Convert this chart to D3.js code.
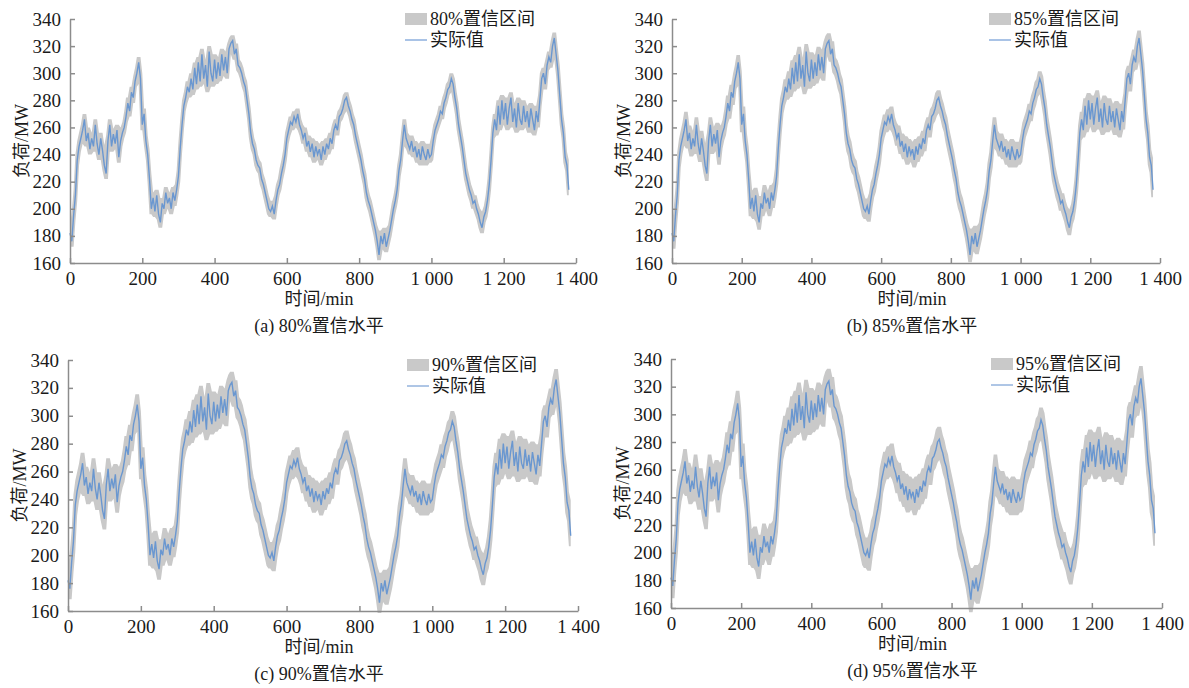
<!DOCTYPE html>
<html lang="zh">
	<head>
		<meta charset="utf-8">
		<title>置信区间</title>
		<script type="text/javascript" src="https://cdn.jsdelivr.net/npm/d3@7/dist/d3.min.js"></script>
		<style type="text/css">
			body { margin:0px; background:#fff; }
			text {
				font-family: "Liberation Serif", "Noto Sans CJK SC", serif;
				fill: #1a1a1a;
			}
		</style>
	</head>
	<body>
		<div id="chart"></div>
		<script type="text/javascript">
			//Data: actual load every 5 min, MW
			var step = 5;
			var load = [
				182,176,195,210,236,246,252,258,266,250,256,244,252,246,262,248,240,252,243,232,
				226,250,262,246,255,248,258,238,250,256,260,268,278,272,286,282,294,300,308,296,
				262,270,250,240,222,200,208,198,210,196,190,204,200,212,204,208,200,212,206,214,
				224,245,262,276,282,290,286,296,288,304,292,308,294,314,296,306,290,316,300,294,
				310,296,308,298,314,302,312,300,318,322,324,314,318,306,304,300,294,290,280,270,
				256,248,244,236,232,230,222,218,212,206,200,198,202,196,206,214,218,226,232,240,
				252,258,264,262,268,264,270,262,258,252,256,246,250,242,248,238,246,240,244,236,
				246,240,248,244,252,248,258,262,258,268,270,274,280,282,276,272,266,262,254,248,
				242,236,228,222,212,206,202,196,190,184,176,166,180,174,182,172,178,184,192,200,
				206,214,228,236,250,262,252,248,244,250,242,246,238,244,236,246,240,236,244,238,
				240,250,258,262,266,272,270,278,282,288,290,296,292,282,274,262,254,246,236,226,
				220,214,210,204,206,200,196,190,186,194,198,206,218,236,256,266,258,276,262,280,
				266,278,262,274,282,264,274,260,278,266,262,276,264,272,260,274,266,258,272,264,
				280,296,300,292,306,312,308,320,326,314,302,284,266,256,238,232,214
			];

			//Panels
			var levels = ["80%", "85%", "90%", "95%"];
			var letters = ["a", "b", "c", "d"];
			var halfWidth = [4, 5.5, 7.5, 9];

			var xTicks = [0, 200, 400, 600, 800, 1000, 1200, 1400];
			var yTicks = [160, 180, 200, 220, 240, 260, 280, 300, 320, 340];

			var panels = [
				{left:70, right:576, top:19, bottom:263, legendDy:0, legendStyle:"light"},
				{left:672, right:1160, top:19, bottom:263, legendDy:0, legendStyle:"light"},
				{left:68, right:578, top:360, bottom:611, legendDy:5, legendStyle:"dark"},
				{left:671, right:1162, top:359, bottom:608, legendDy:5, legendStyle:"dark"}
			];

			var svg = d3.select("#chart")
				.append("svg")
				.attr("width", 1189)
				.attr("height", 688);

			var fmt = function(d) {
				var s = String(d);
				if (d >= 1000) s = s.slice(0, s.length - 3) + " " + s.slice(s.length - 3);
				return s;
			};

			var axisColor = "#8c8c8c";
			var lineColor = "#6a97d0";
			var bandColor = "#c9c9c9";

			panels.forEach(function(p, k) {
				var x = d3.scaleLinear().domain([0, 1400]).range([p.left, p.right]);
				var y = d3.scaleLinear().domain([160, 340]).range([p.bottom, p.top]);
				var w = halfWidth[k];

				var g = svg.append("g");

				//band from neighbouring values +/- half width
				var band = d3.area()
					.x(function(d, i) { return x(i * step); })
					.y0(function(d, i) {
						return y(d3.min(load.slice(Math.max(0, i - 1), i + 2)) - w);
					})
					.y1(function(d, i) {
						return y(Math.min(339, d3.max(load.slice(Math.max(0, i - 1), i + 2)) + w));
					});

				g.append("path")
					.datum(load)
					.attr("d", band)
					.attr("fill", bandColor);

				var line = d3.line()
					.x(function(d, i) { return x(i * step); })
					.y(function(d) { return y(d); });

				g.append("path")
					.datum(load)
					.attr("d", line)
					.attr("fill", "none")
					.attr("stroke", lineColor)
					.attr("stroke-width", 1.4);

				//axes
				var xAxis = d3.axisBottom(x)
					.tickValues(xTicks)
					.tickSizeInner(-5)
					.tickSizeOuter(0)
					.tickPadding(9)
					.tickFormat(fmt);

				var xg = g.append("g")
					.attr("transform", "translate(0," + p.bottom + ")")
					.call(xAxis);

				var yAxis = d3.axisLeft(y)
					.tickValues(yTicks)
					.tickSizeInner(-5)
					.tickSizeOuter(0)
					.tickPadding(9);

				var yg = g.append("g")
					.attr("transform", "translate(" + p.left + ",0)")
					.call(yAxis);

				[xg, yg].forEach(function(a) {
					a.selectAll("path, line")
						.attr("stroke", axisColor)
						.attr("stroke-width", 1.5);
					a.selectAll("text")
						.attr("font-family", "Liberation Serif, serif")
						.attr("font-size", "19px")
						.attr("fill", "#1a1a1a");
				});

				//titles
				g.append("text")
					.attr("x", (p.left + p.right) / 2 - 4)
					.attr("y", p.bottom + 42)
					.attr("text-anchor", "middle")
					.attr("font-size", "18px")
					.text("时间/min");

				g.append("text")
					.attr("x", (p.left + p.right) / 2 - 4)
					.attr("y", p.bottom + 69)
					.attr("text-anchor", "middle")
					.attr("font-size", "18px")
					.text("(" + letters[k] + ") " + levels[k] + "置信水平");

				g.append("text")
					.attr("transform", "translate(" + (p.left - 42) + "," + ((p.top + p.bottom) / 2) + ") rotate(-90)")
					.attr("text-anchor", "middle")
					.attr("font-size", "18px")
					.text("负荷/MW");

				//legend
				var lx = p.right - 171;
				var ly = p.top + p.legendDy;

				g.append("rect")
					.attr("x", lx)
					.attr("y", ly - 6)
					.attr("width", 22)
					.attr("height", 12)
					.attr("fill", bandColor);

				g.append("text")
					.attr("x", lx + 25)
					.attr("y", ly + 6)
					.attr("font-size", "18px")
					.text(levels[k] + "置信区间");

				g.append("line")
					.attr("x1", lx)
					.attr("x2", lx + 22)
					.attr("y1", ly + 21)
					.attr("y2", ly + 21)
					.attr("stroke", p.legendStyle == "light" ? "#a9c3e6" : "#5f8dcc")
					.attr("stroke-width", p.legendStyle == "light" ? 2 : 1);

				g.append("text")
					.attr("x", lx + 25)
					.attr("y", ly + 27)
					.attr("font-size", "18px")
					.text("实际值");
			});
		</script>
	</body>
</html>
